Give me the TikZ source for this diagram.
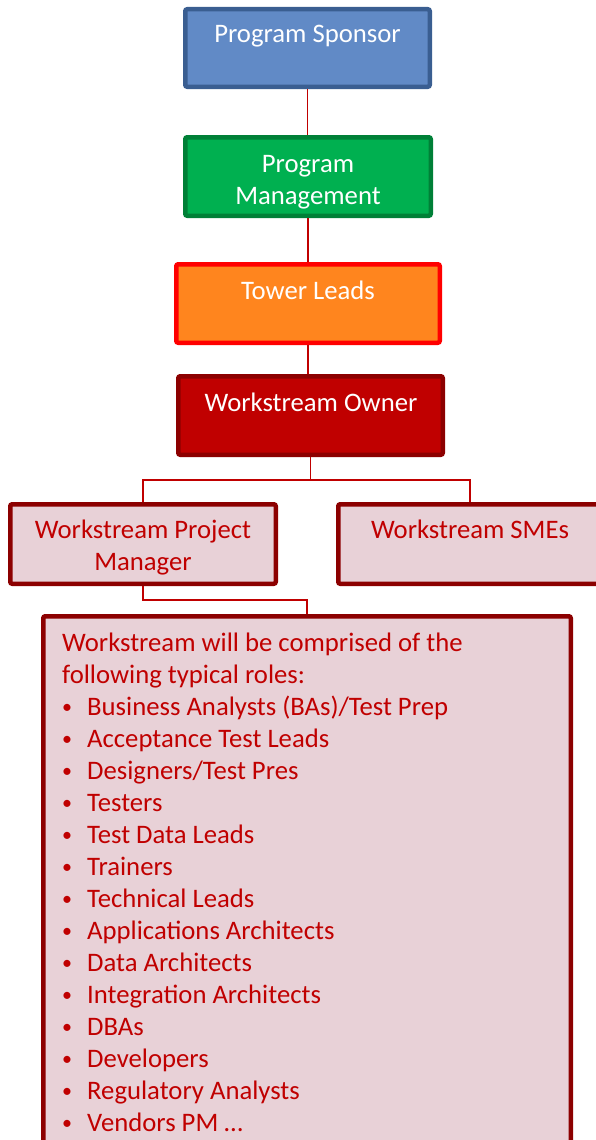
\documentclass[tikz,border=0pt]{standalone}
\usepackage{fontspec}
\setmainfont{Carlito}
\definecolor{spfill}{RGB}{97,138,198}
\definecolor{spdraw}{RGB}{58,94,145}
\definecolor{pmfill}{RGB}{0,176,80}
\definecolor{pmdraw}{RGB}{0,128,55}
\definecolor{twfill}{RGB}{255,133,30}
\definecolor{twdraw}{RGB}{255,0,0}
\definecolor{owfill}{RGB}{192,0,0}
\definecolor{owdraw}{RGB}{140,0,0}
\definecolor{pkfill}{RGB}{232,209,215}
\definecolor{pkdraw}{RGB}{140,0,0}
\definecolor{txtred}{RGB}{192,0,0}
\definecolor{linkred}{RGB}{192,0,0}
\tikzset{
  box/.style={rectangle, line width=4.5pt, rounded corners=2pt, inner sep=0pt},
  sponsorbox/.style={box, draw=spdraw, fill=spfill},
  mgmtbox/.style={box, draw=pmdraw, fill=pmfill},
  towerbox/.style={box, draw=twdraw, fill=twfill},
  ownerbox/.style={box, draw=owdraw, fill=owfill},
  pinkbox/.style={box, draw=pkdraw, fill=pkfill},
  whitetext/.style={text=white, anchor=base, inner sep=0pt},
  redtext/.style={text=txtred, anchor=base, inner sep=0pt},
  link/.style={draw=linkred, line width=1.6pt}
}
\newcommand{\bul}{\makebox[25pt][l]{\raisebox{1.5pt}{\fontsize{20}{20}\selectfont •}}}
\begin{document}
\begin{tikzpicture}[x=1pt,y=-1pt]
\fontsize{26.7}{32}\selectfont
\useasboundingbox (0,0) rectangle (596,1140);
% boxes
\node[sponsorbox, minimum width=244.5pt, minimum height=77.5pt] (sponsor) at (307.5,48) {};
\node[mgmtbox, minimum width=245.5pt, minimum height=78.5pt] (mgmt) at (308,176.5) {};
\node[towerbox, minimum width=263.5pt, minimum height=78.5pt] (tower) at (308,303.5) {};
\node[ownerbox, minimum width=264.5pt, minimum height=78.5pt] (owner) at (310.5,415.5) {};
\node[pinkbox, minimum width=265.5pt, minimum height=79.5pt] (pm) at (143,544) {};
\node[pinkbox, minimum width=263.5pt, minimum height=79.5pt] (smes) at (470,544) {};
\node[pinkbox, minimum width=527.5pt, minimum height=541.5pt] (roles) at (307,887) {};
% connectors
\draw[link] (sponsor.south) -- (sponsor.south |- mgmt.north);
\draw[link] (mgmt.south) -- (mgmt.south |- tower.north);
\draw[link] (tower.south) -- (tower.south |- owner.north);
\draw[link] (owner.south) -- ++(0,23) -| (pm.north);
\draw[link] (owner.south) -- ++(0,23) -| (smes.north);
\draw[link] (pm.south) -- ++(0,14) -| (roles.north);
% texts
\node[whitetext] (sponsortxt) at (307.5,43) {Program Sponsor};
\node[whitetext] (mgmttxt) at (308,172) {\begin{tabular}[t]{@{}c@{}}Program\\Management\end{tabular}};
\node[whitetext] (towertxt) at (308,299) {Tower Leads};
\node[whitetext] (ownertxt) at (311,411) {Workstream Owner};
\node[redtext] (pmtxt) at (143,538.5) {\begin{tabular}[t]{@{}c@{}}Workstream Project\\Manager\end{tabular}};
\node[redtext] (smestxt) at (470,538.5) {Workstream SMEs};
\node[redtext, anchor=base west] (rolestxt) at (62,651) {\begin{tabular}[t]{@{}l@{}}
Workstream will be comprised of the\\
following typical roles:\\
\bul Business Analysts (BAs)/Test Prep\\
\bul Acceptance Test Leads\\
\bul Designers/Test Pres\\
\bul Testers\\
\bul Test Data Leads\\
\bul Trainers\\
\bul Technical Leads\\
\bul Applications Architects\\
\bul Data Architects\\
\bul Integration Architects\\
\bul DBAs\\
\bul Developers\\
\bul Regulatory Analysts\\
\bul Vendors PM …
\end{tabular}};
\end{tikzpicture}
\end{document}
